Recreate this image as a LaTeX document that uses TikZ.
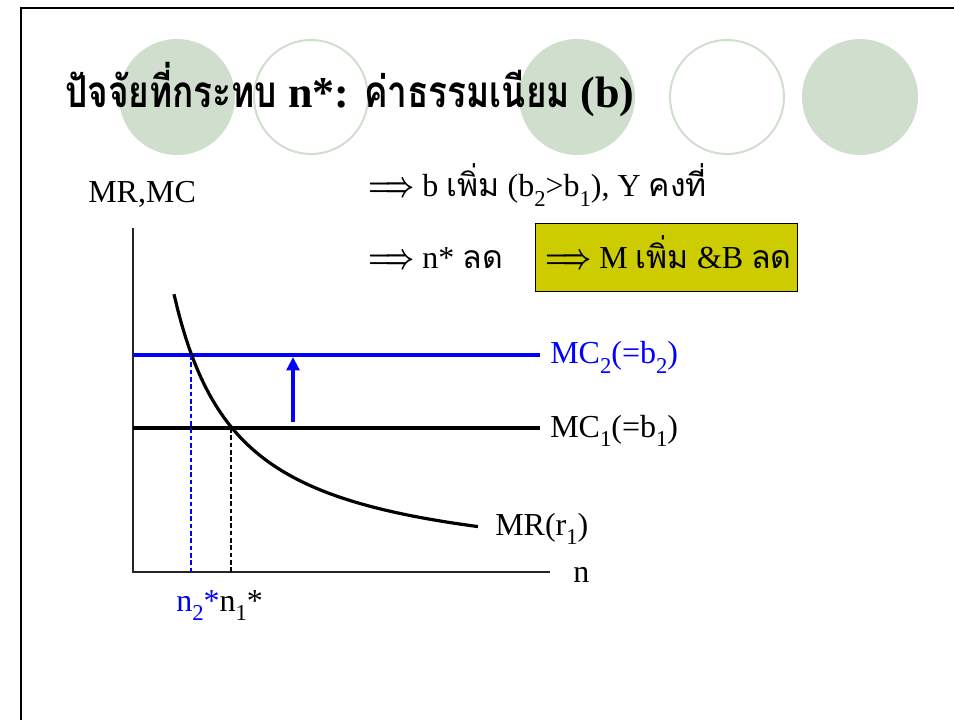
\documentclass[tikz,border=0pt]{standalone}
\usepackage{fontspec}
\usepackage{bm}
\setmainfont{Liberation Serif}
\newfontfamily\thaifont[Script=Thai]{Loma}
\newfontfamily\thaititle[Script=Thai, FakeStretch=0.8]{Loma}
\usepackage{tikz}
\usetikzlibrary{positioning,arrows.meta,calc}
\definecolor{mSage}{HTML}{D0DFCD}
\definecolor{mOlive}{HTML}{CCCC00}
\definecolor{mBlue}{HTML}{0000FF}
\newcommand{\thtxt}[1]{{\thaifont #1}}
\newcommand{\thhead}[1]{{\thaititle #1}}
\newcommand{\dn}[1]{\raisebox{-0.3em}{\fontsize{17}{17}\selectfont #1}}
\newcommand{\impl}{\scalebox{0.76}[1.05]{$\bm{\Longrightarrow}$}}
\begin{document}
\begin{tikzpicture}[x=0.75pt,y=-0.75pt,font=\fontsize{24}{28}\selectfont,
  curve/.style={line width=2.4pt},
  guide/.style={line width=0.8pt, dash pattern=on 3.5pt off 2pt},
  lbl/.style={anchor=base west, inner sep=0pt}]
\useasboundingbox (0,0) rectangle (954,720);
% slide frame and decoration
\draw[line width=2.2pt] (21,720) -- (21,8) -- (954,8);
\fill[mSage] (177,97) circle[radius=58]; \fill[mSage] (577,97) circle[radius=58]; \fill[mSage] (860,97) circle[radius=58];
\draw[mSage, line width=1.5pt] (311,97) circle[radius=57]; \draw[mSage, line width=1.5pt] (727,97) circle[radius=57];
\node[lbl, font=\bfseries\fontsize{33}{36}\selectfont] (title) at (65,108) {\thhead{ปัจจัยที่กระทบ} n*: \thhead{ค่าธรรมเนียม} (b)};
% text
\node[lbl] (axisY) at (88,203) {MR,MC};
\node[lbl] (cause) at (368,197) {\impl\ b \thtxt{เพิ่ม} (b\dn{2}>b\dn{1}), Y \thtxt{คงที่}};
\node[lbl] (effect) at (368,269) {\impl\ n* \thtxt{ลด}};
\node[draw, fill=mOlive, minimum width=196.5pt, minimum height=51pt, line width=0.6pt] (result) at (666,257) {};
\node[lbl] (resultT) at (545,269) {\impl\ M \thtxt{เพิ่ม} \&B \thtxt{ลด}};
% axes
\coordinate (O) at (133,572); \coordinate (yTop) at (133,228); \coordinate (xEnd) at (550,572);
\draw[line width=1pt, black!85] (yTop) -- (O) -- (xEnd);
\node[lbl] (axisX) at (573,582) {n};
% cost lines
\coordinate (mc2L) at (133,355); \coordinate (mc2R) at (540,355);
\coordinate (mc1L) at (133,428); \coordinate (mc1R) at (540,428);
\draw[curve, mBlue] (mc2L) -- (mc2R);
\draw[curve] (mc1L) -- (mc1R);
\node[lbl, text=mBlue] (mc2lab) at (550,364) {MC\dn{2}(=b\dn{2})};
\node[lbl] (mc1lab) at (550,437) {MC\dn{1}(=b\dn{1})};
% MR curve
\draw[curve] plot[domain=174:478, samples=80] (\x,{575.5-180/((\x-110)/100)});
\coordinate (mrEnd) at (478,527);
\node[lbl] (mrlab) at (495,535) {MR(r\dn{1})};
% optimum points
\coordinate (q2) at (191,355); \coordinate (n2) at (191,572);
\coordinate (q1) at (231,428); \coordinate (n1) at (231,572);
\draw[guide, draw=mBlue] (q2) -- (n2);
\draw[guide] (q1) -- (n1);
\node[lbl] (nstar) at (176,611) {\textcolor{mBlue}{n\dn{2}*}n\dn{1}*};
% shift arrow
\coordinate (shiftA) at (293,422); \coordinate (shiftB) at (293,357);
\draw[-{Triangle[width=9.5pt,length=10pt]}, mBlue, line width=3.2pt] (shiftA) -- (shiftB);
\end{tikzpicture}
\end{document}
